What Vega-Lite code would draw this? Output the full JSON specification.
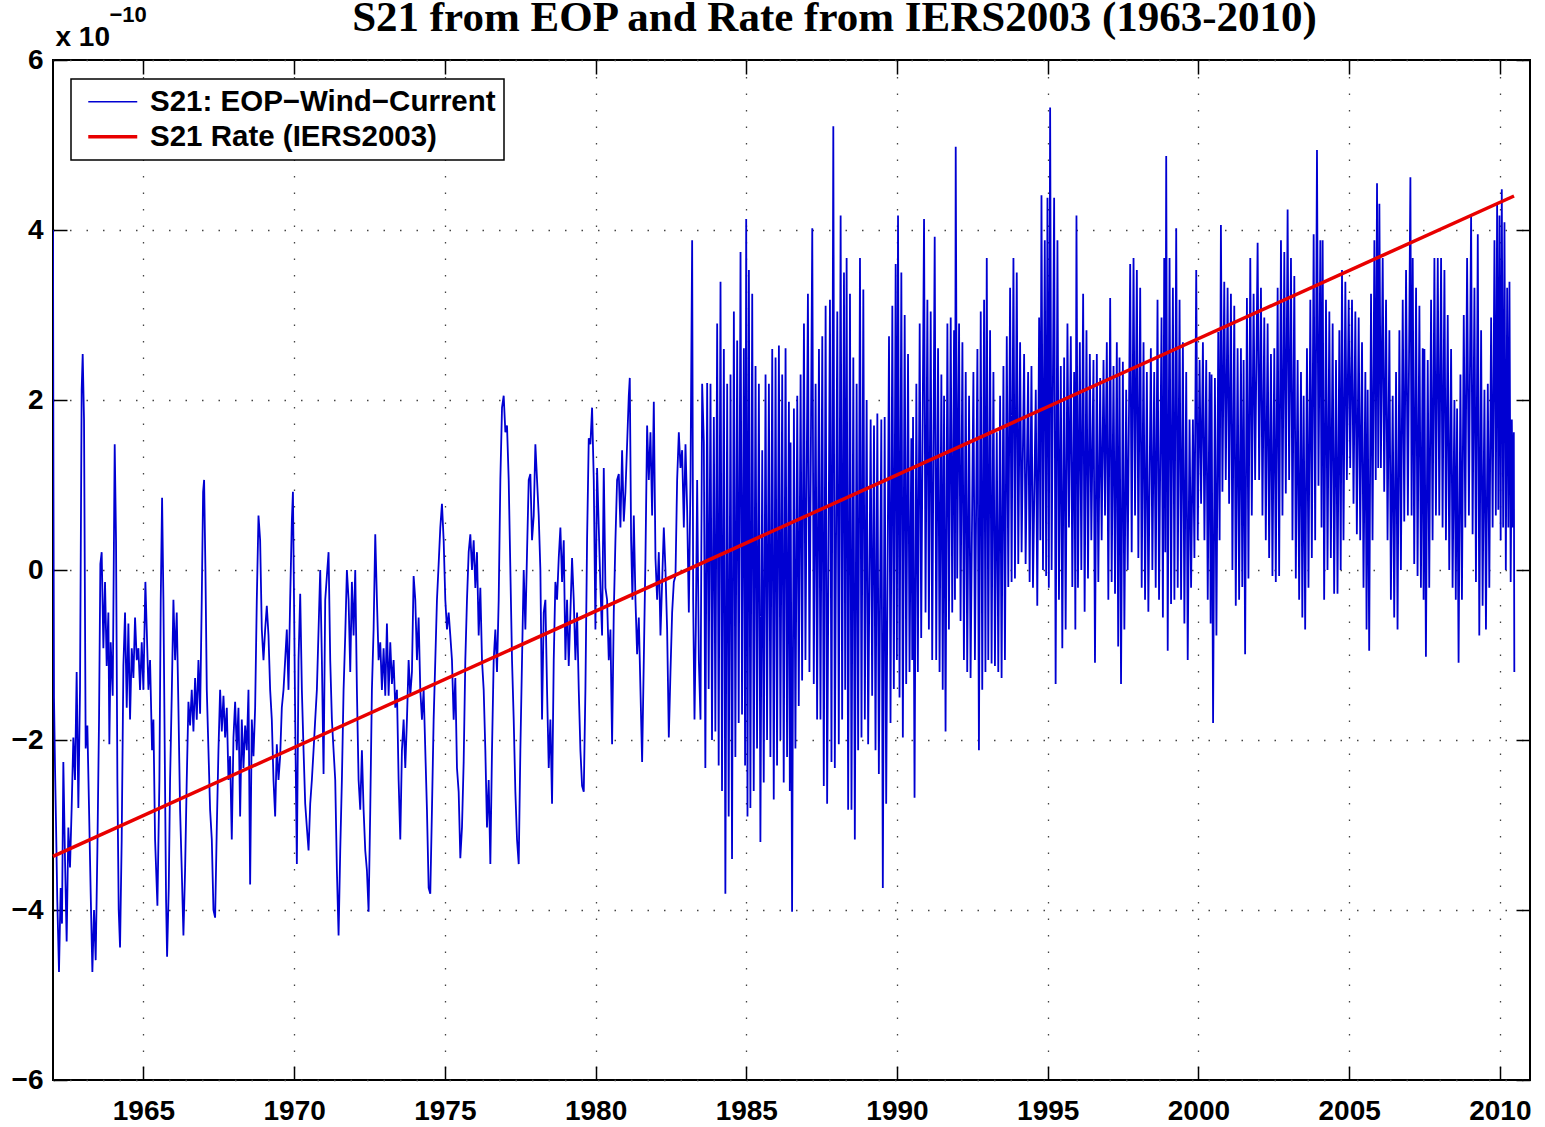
{
"$schema":"https://vega.github.io/schema/vega-lite/v6.json",
"width":1477,"height":1020,
"autosize":{"type":"none"},
"padding":{"left":53,"top":60,"right":15,"bottom":47},
"background":"white",
"config":{
"view":{"stroke":"#000","strokeWidth":2},
"axis":{"domain":false,"tickColor":"#000","tickWidth":1.5,"tickSize":-14,"labelFont":"Liberation Sans","labelFontWeight":"bold","labelFontSize":28,"labelColor":"#000","gridColor":"#444","gridDash":[1.5,15],"gridWidth":1.3,"gridOpacity":1,"titleColor":"#000","titleFont":"Liberation Sans","titleFontWeight":"bold"}
},
"datasets":{
"rate":[{"t":1962,"v":-3.37},{"t":2010.47,"v":4.4}],
"eop":[
{"t":1962.000,"v":4.00},{"t":1962.015,"v":1.00},{"t":1962.033,"v":-1.50},{"t":1962.066,"v":-2.30},{"t":1962.099,"v":-2.96},{"t":1962.143,"v":-3.90},{"t":1962.199,"v":-4.73},{"t":1962.254,"v":-3.74},{"t":1962.298,"v":-4.16},{"t":1962.343,"v":-2.26},{"t":1962.398,"v":-3.40},{"t":1962.453,"v":-4.37},{"t":1962.509,"v":-3.03},{"t":1962.564,"v":-3.50},{"t":1962.619,"v":-2.80},{"t":1962.675,"v":-1.97},{"t":1962.730,"v":-2.47},{"t":1962.785,"v":-1.20},{"t":1962.841,"v":-2.80},{"t":1962.896,"v":-1.41},{"t":1962.951,"v":2.12},{"t":1962.985,"v":2.54},{"t":1963.029,"v":1.77},{"t":1963.084,"v":-2.10},{"t":1963.140,"v":-1.83},{"t":1963.195,"v":-2.80},{"t":1963.250,"v":-3.80},{"t":1963.306,"v":-4.73},{"t":1963.361,"v":-4.00},{"t":1963.416,"v":-4.59},{"t":1963.472,"v":-3.30},{"t":1963.527,"v":-1.76},{"t":1963.571,"v":0.07},{"t":1963.615,"v":0.21},{"t":1963.671,"v":-0.92},{"t":1963.726,"v":-0.14},{"t":1963.781,"v":-1.13},{"t":1963.837,"v":-0.50},{"t":1963.870,"v":-2.05},{"t":1963.914,"v":-0.85},{"t":1963.981,"v":-1.48},{"t":1964.047,"v":1.48},{"t":1964.091,"v":0.35},{"t":1964.136,"v":-2.47},{"t":1964.180,"v":-4.00},{"t":1964.224,"v":-4.44},{"t":1964.279,"v":-3.17},{"t":1964.335,"v":-1.13},{"t":1964.390,"v":-0.50},{"t":1964.446,"v":-1.62},{"t":1964.501,"v":-0.63},{"t":1964.556,"v":-1.76},{"t":1964.612,"v":-0.92},{"t":1964.667,"v":-1.27},{"t":1964.722,"v":-0.56},{"t":1964.778,"v":-1.06},{"t":1964.833,"v":-0.92},{"t":1964.888,"v":-1.41},{"t":1964.944,"v":-0.85},{"t":1964.999,"v":-1.41},{"t":1965.065,"v":-0.14},{"t":1965.110,"v":-0.70},{"t":1965.165,"v":-1.41},{"t":1965.220,"v":-1.06},{"t":1965.286,"v":-2.12},{"t":1965.331,"v":-1.76},{"t":1965.386,"v":-3.17},{"t":1965.464,"v":-3.95},{"t":1965.530,"v":-2.47},{"t":1965.574,"v":-0.35},{"t":1965.619,"v":0.85},{"t":1965.663,"v":-0.35},{"t":1965.707,"v":-2.12},{"t":1965.751,"v":-3.88},{"t":1965.785,"v":-4.55},{"t":1965.840,"v":-3.74},{"t":1965.884,"v":-2.47},{"t":1965.939,"v":-1.48},{"t":1965.995,"v":-0.35},{"t":1966.050,"v":-1.06},{"t":1966.105,"v":-0.50},{"t":1966.161,"v":-1.62},{"t":1966.216,"v":-2.82},{"t":1966.271,"v":-3.53},{"t":1966.327,"v":-4.30},{"t":1966.382,"v":-3.53},{"t":1966.437,"v":-2.47},{"t":1966.493,"v":-1.55},{"t":1966.548,"v":-1.83},{"t":1966.603,"v":-1.41},{"t":1966.659,"v":-1.90},{"t":1966.714,"v":-1.27},{"t":1966.769,"v":-1.76},{"t":1966.825,"v":-1.06},{"t":1966.880,"v":-1.69},{"t":1966.935,"v":-0.35},{"t":1966.980,"v":0.92},{"t":1967.013,"v":1.06},{"t":1967.057,"v":0.00},{"t":1967.102,"v":-1.41},{"t":1967.157,"v":-2.12},{"t":1967.212,"v":-2.82},{"t":1967.268,"v":-3.17},{"t":1967.323,"v":-4.00},{"t":1967.378,"v":-4.09},{"t":1967.434,"v":-3.03},{"t":1967.489,"v":-2.12},{"t":1967.544,"v":-1.41},{"t":1967.600,"v":-1.90},{"t":1967.655,"v":-1.48},{"t":1967.710,"v":-1.97},{"t":1967.766,"v":-1.62},{"t":1967.821,"v":-2.47},{"t":1967.876,"v":-2.19},{"t":1967.931,"v":-3.17},{"t":1967.987,"v":-1.97},{"t":1968.042,"v":-1.55},{"t":1968.097,"v":-2.12},{"t":1968.153,"v":-1.62},{"t":1968.208,"v":-2.90},{"t":1968.263,"v":-1.76},{"t":1968.319,"v":-2.33},{"t":1968.374,"v":-1.83},{"t":1968.429,"v":-2.12},{"t":1968.485,"v":-1.41},{"t":1968.540,"v":-3.70},{"t":1968.595,"v":-1.76},{"t":1968.651,"v":-2.19},{"t":1968.706,"v":-1.62},{"t":1968.761,"v":-0.35},{"t":1968.817,"v":0.64},{"t":1968.872,"v":0.35},{"t":1968.927,"v":-0.70},{"t":1968.983,"v":-1.06},{"t":1969.038,"v":-0.70},{"t":1969.093,"v":-0.42},{"t":1969.149,"v":-0.77},{"t":1969.204,"v":-1.41},{"t":1969.259,"v":-1.76},{"t":1969.315,"v":-2.47},{"t":1969.370,"v":-2.90},{"t":1969.425,"v":-2.05},{"t":1969.481,"v":-2.47},{"t":1969.536,"v":-2.19},{"t":1969.591,"v":-1.62},{"t":1969.647,"v":-1.41},{"t":1969.702,"v":-1.06},{"t":1969.757,"v":-0.70},{"t":1969.813,"v":-1.41},{"t":1969.868,"v":-0.35},{"t":1969.923,"v":0.57},{"t":1969.960,"v":0.92},
{"t":1970.035,"v":-1.76},{"t":1970.090,"v":-3.46},{"t":1970.146,"v":-1.06},{"t":1970.201,"v":-0.28},{"t":1970.256,"v":-1.41},{"t":1970.312,"v":-2.12},{"t":1970.367,"v":-2.75},{"t":1970.422,"v":-3.03},{"t":1970.478,"v":-3.30},{"t":1970.533,"v":-2.75},{"t":1970.588,"v":-2.47},{"t":1970.644,"v":-2.12},{"t":1970.699,"v":-1.76},{"t":1970.754,"v":-1.41},{"t":1970.810,"v":-0.70},{"t":1970.865,"v":0.00},{"t":1970.920,"v":-1.06},{"t":1970.976,"v":-2.40},{"t":1971.031,"v":-0.35},{"t":1971.086,"v":-0.07},{"t":1971.142,"v":0.21},{"t":1971.197,"v":-1.06},{"t":1971.252,"v":-1.76},{"t":1971.308,"v":-2.12},{"t":1971.363,"v":-2.47},{"t":1971.418,"v":-3.53},{"t":1971.474,"v":-4.30},{"t":1971.529,"v":-3.30},{"t":1971.584,"v":-2.47},{"t":1971.640,"v":-1.41},{"t":1971.695,"v":-0.77},{"t":1971.750,"v":0.00},{"t":1971.806,"v":-0.35},{"t":1971.861,"v":-1.20},{"t":1971.916,"v":-0.14},{"t":1971.972,"v":-0.77},{"t":1972.027,"v":0.00},{"t":1972.082,"v":-1.41},{"t":1972.138,"v":-2.47},{"t":1972.193,"v":-2.82},{"t":1972.248,"v":-2.12},{"t":1972.304,"v":-2.82},{"t":1972.359,"v":-3.30},{"t":1972.414,"v":-3.53},{"t":1972.470,"v":-4.02},{"t":1972.525,"v":-2.82},{"t":1972.580,"v":-1.41},{"t":1972.636,"v":-0.70},{"t":1972.691,"v":0.42},{"t":1972.746,"v":-0.35},{"t":1972.802,"v":-1.06},{"t":1972.857,"v":-0.85},{"t":1972.912,"v":-1.41},{"t":1972.968,"v":-0.92},{"t":1973.023,"v":-1.48},{"t":1973.078,"v":-0.63},{"t":1973.134,"v":-1.48},{"t":1973.189,"v":-0.85},{"t":1973.244,"v":-1.34},{"t":1973.300,"v":-1.06},{"t":1973.355,"v":-1.62},{"t":1973.410,"v":-1.41},{"t":1973.466,"v":-2.47},{"t":1973.521,"v":-3.17},{"t":1973.576,"v":-2.12},{"t":1973.632,"v":-1.76},{"t":1973.687,"v":-2.33},{"t":1973.742,"v":-1.76},{"t":1973.798,"v":-1.06},{"t":1973.853,"v":-1.48},{"t":1973.908,"v":-1.20},{"t":1973.964,"v":-0.07},{"t":1974.019,"v":-0.35},{"t":1974.074,"v":-1.06},{"t":1974.130,"v":-0.56},{"t":1974.185,"v":-1.41},{"t":1974.240,"v":-1.76},{"t":1974.296,"v":-1.41},{"t":1974.351,"v":-2.12},{"t":1974.406,"v":-2.82},{"t":1974.462,"v":-3.74},{"t":1974.517,"v":-3.81},{"t":1974.572,"v":-2.82},{"t":1974.628,"v":-1.76},{"t":1974.683,"v":-1.06},{"t":1974.738,"v":-0.35},{"t":1974.794,"v":0.07},{"t":1974.849,"v":0.50},{"t":1974.904,"v":0.78},{"t":1974.960,"v":0.35},{"t":1975.015,"v":-0.35},{"t":1975.070,"v":-0.70},{"t":1975.126,"v":-0.50},{"t":1975.181,"v":-0.77},{"t":1975.236,"v":-1.06},{"t":1975.292,"v":-1.76},{"t":1975.347,"v":-1.27},{"t":1975.402,"v":-2.33},{"t":1975.458,"v":-2.61},{"t":1975.513,"v":-3.39},{"t":1975.568,"v":-3.03},{"t":1975.624,"v":-2.26},{"t":1975.679,"v":-1.06},{"t":1975.734,"v":-0.35},{"t":1975.790,"v":0.21},{"t":1975.845,"v":0.42},{"t":1975.900,"v":0.00},{"t":1975.956,"v":0.35},{"t":1976.011,"v":-0.21},{"t":1976.066,"v":0.21},{"t":1976.122,"v":-0.77},{"t":1976.177,"v":-0.21},{"t":1976.232,"v":-1.06},{"t":1976.288,"v":-1.41},{"t":1976.343,"v":-2.12},{"t":1976.398,"v":-3.03},{"t":1976.454,"v":-2.47},{"t":1976.509,"v":-3.46},{"t":1976.564,"v":-2.12},{"t":1976.620,"v":-1.06},{"t":1976.675,"v":-0.70},{"t":1976.730,"v":-1.20},{"t":1976.786,"v":-0.35},{"t":1976.841,"v":1.06},{"t":1976.896,"v":1.91},{"t":1976.952,"v":2.05},{"t":1977.007,"v":1.62},{"t":1977.062,"v":1.70},{"t":1977.118,"v":1.06},{"t":1977.173,"v":0.00},{"t":1977.228,"v":-1.06},{"t":1977.284,"v":-1.76},{"t":1977.339,"v":-2.61},{"t":1977.394,"v":-3.17},{"t":1977.450,"v":-3.46},{"t":1977.505,"v":-2.12},{"t":1977.560,"v":-1.06},{"t":1977.616,"v":0.00},{"t":1977.671,"v":-0.70},{"t":1977.726,"v":0.21},{"t":1977.782,"v":1.06},{"t":1977.837,"v":1.13},{"t":1977.892,"v":0.35},{"t":1977.948,"v":0.64},{"t":1978.003,"v":1.48},{"t":1978.058,"v":1.06},{"t":1978.114,"v":0.64},{"t":1978.169,"v":0.00},
{"t":1978.224,"v":-1.76},{"t":1978.280,"v":-0.50},{"t":1978.335,"v":-0.35},{"t":1978.390,"v":-1.41},{"t":1978.446,"v":-2.33},{"t":1978.501,"v":-1.76},{"t":1978.556,"v":-2.75},{"t":1978.612,"v":-1.06},{"t":1978.667,"v":-0.14},{"t":1978.722,"v":-0.35},{"t":1978.778,"v":0.14},{"t":1978.833,"v":0.50},{"t":1978.888,"v":-0.14},{"t":1978.944,"v":0.35},{"t":1978.999,"v":-1.06},{"t":1979.054,"v":-0.35},{"t":1979.110,"v":-1.13},{"t":1979.165,"v":-0.50},{"t":1979.220,"v":0.14},{"t":1979.276,"v":-0.35},{"t":1979.331,"v":-1.06},{"t":1979.386,"v":-0.50},{"t":1979.442,"v":-1.41},{"t":1979.497,"v":-2.12},{"t":1979.552,"v":-2.54},{"t":1979.608,"v":-2.61},{"t":1979.663,"v":-1.41},{"t":1979.718,"v":0.35},{"t":1979.774,"v":1.55},{"t":1979.829,"v":1.48},{"t":1979.884,"v":1.91},{"t":1979.940,"v":1.06},{"t":1979.995,"v":-0.70},{"t":1980.050,"v":1.20},{"t":1980.106,"v":0.50},{"t":1980.161,"v":-0.21},{"t":1980.216,"v":-0.77},{"t":1980.272,"v":1.20},{"t":1980.327,"v":-0.21},{"t":1980.382,"v":-0.35},{"t":1980.438,"v":-1.06},{"t":1980.493,"v":-0.70},{"t":1980.548,"v":-2.05},{"t":1980.604,"v":-0.50},{"t":1980.659,"v":0.35},{"t":1980.714,"v":1.06},{"t":1980.770,"v":1.13},{"t":1980.825,"v":0.50},{"t":1980.880,"v":1.41},{"t":1980.936,"v":0.57},{"t":1980.991,"v":0.92},{"t":1981.046,"v":1.48},{"t":1981.102,"v":2.05},{"t":1981.135,"v":2.26},{"t":1981.179,"v":0.35},{"t":1981.223,"v":-0.35},{"t":1981.268,"v":0.64},{"t":1981.323,"v":-0.35},{"t":1981.378,"v":-0.99},{"t":1981.434,"v":-0.56},{"t":1981.489,"v":-1.41},{"t":1981.544,"v":-2.26},{"t":1981.600,"v":-1.06},{"t":1981.655,"v":0.14},{"t":1981.710,"v":1.70},{"t":1981.766,"v":1.06},{"t":1981.821,"v":1.62},{"t":1981.876,"v":0.64},{"t":1981.932,"v":1.98},{"t":1981.987,"v":0.14},{"t":1982.042,"v":-0.35},{"t":1982.098,"v":0.21},{"t":1982.153,"v":-0.77},{"t":1982.208,"v":-0.14},{"t":1982.264,"v":0.50},{"t":1982.319,"v":0.00},{"t":1982.374,"v":-0.70},{"t":1982.430,"v":-1.97},{"t":1982.485,"v":-1.20},{"t":1982.540,"v":-0.50},{"t":1982.596,"v":-0.14},{"t":1982.651,"v":-0.07},{"t":1982.706,"v":1.06},{"t":1982.762,"v":1.62},{"t":1982.817,"v":1.20},{"t":1982.872,"v":1.41},{"t":1982.928,"v":0.50},{"t":1982.983,"v":1.48},{"t":1983.038,"v":0.71},{"t":1983.094,"v":-0.50},{"t":1983.149,"v":1.06},{"t":1983.204,"v":3.88},{"t":1983.238,"v":-0.35},{"t":1983.282,"v":-1.76},{"t":1983.326,"v":-0.70},{"t":1983.370,"v":1.06},{"t":1983.426,"v":-1.06},{"t":1983.481,"v":-1.76},{"t":1983.536,"v":2.19},
{"t":1983.592,"v":1.50},{"t":1983.642,"v":-2.33},{"t":1983.702,"v":2.20},{"t":1983.752,"v":-1.40},{"t":1983.813,"v":2.19},{"t":1983.863,"v":-2.00},{"t":1983.924,"v":1.80},{"t":1983.974,"v":-1.90},{"t":1984.034,"v":2.90},{"t":1984.084,"v":-2.30},{"t":1984.145,"v":3.39},{"t":1984.195,"v":-2.60},{"t":1984.256,"v":2.60},{"t":1984.306,"v":-3.81},{"t":1984.366,"v":2.19},{"t":1984.416,"v":-2.90},{"t":1984.477,"v":2.30},{"t":1984.527,"v":-3.40},{"t":1984.588,"v":3.04},{"t":1984.638,"v":-2.20},{"t":1984.698,"v":2.70},{"t":1984.748,"v":-1.80},{"t":1984.809,"v":3.74},{"t":1984.859,"v":-1.70},{"t":1984.920,"v":2.61},{"t":1984.960,"v":-2.30},{"t":1984.997,"v":4.13},{"t":1985.040,"v":-2.90},{"t":1985.086,"v":3.53},{"t":1985.136,"v":-2.80},{"t":1985.197,"v":3.25},{"t":1985.247,"v":-2.60},{"t":1985.307,"v":2.40},{"t":1985.357,"v":-2.10},{"t":1985.418,"v":2.19},{"t":1985.468,"v":-3.20},{"t":1985.529,"v":1.41},{"t":1985.579,"v":-2.50},{"t":1985.639,"v":2.30},{"t":1985.689,"v":-2.00},{"t":1985.750,"v":2.19},{"t":1985.800,"v":-2.20},{"t":1985.861,"v":2.60},{"t":1985.911,"v":-2.70},{"t":1985.971,"v":2.50},{"t":1986.021,"v":-2.30},{"t":1986.082,"v":2.64},{"t":1986.132,"v":-2.00},{"t":1986.192,"v":2.30},{"t":1986.242,"v":-2.50},{"t":1986.303,"v":2.61},{"t":1986.353,"v":-2.20},{"t":1986.414,"v":1.98},{"t":1986.444,"v":-2.60},{"t":1986.469,"v":1.50},{"t":1986.519,"v":-4.02},{"t":1986.580,"v":1.90},{"t":1986.630,"v":-2.10},{"t":1986.691,"v":2.05},{"t":1986.741,"v":-1.60},
{"t":1986.802,"v":2.30},{"t":1986.852,"v":-1.30},{"t":1986.913,"v":2.90},{"t":1986.963,"v":-1.06},{"t":1987.045,"v":3.25},{"t":1987.095,"v":-1.20},{"t":1987.189,"v":4.02},{"t":1987.239,"v":-1.34},{"t":1987.300,"v":2.19},{"t":1987.350,"v":-1.76},{"t":1987.411,"v":2.60},{"t":1987.461,"v":-1.76},{"t":1987.521,"v":2.75},{"t":1987.571,"v":-2.54},{"t":1987.632,"v":3.11},{"t":1987.682,"v":-2.75},{"t":1987.776,"v":3.18},{"t":1987.826,"v":-2.26},{"t":1987.887,"v":5.22},{"t":1987.937,"v":-2.33},{"t":1988.019,"v":3.04},{"t":1988.069,"v":-2.05},{"t":1988.130,"v":4.17},{"t":1988.180,"v":-1.76},{"t":1988.241,"v":3.50},{"t":1988.281,"v":-1.41},{"t":1988.329,"v":3.67},{"t":1988.379,"v":-2.82},{"t":1988.440,"v":3.25},{"t":1988.490,"v":-2.82},{"t":1988.551,"v":2.50},{"t":1988.601,"v":-3.17},{"t":1988.661,"v":2.19},{"t":1988.711,"v":-2.12},{"t":1988.772,"v":3.67},{"t":1988.822,"v":-1.97},{"t":1988.883,"v":3.30},{"t":1988.933,"v":-1.76},{"t":1988.993,"v":2.00},{"t":1989.043,"v":-2.05},{"t":1989.126,"v":1.77},{"t":1989.176,"v":-1.48},{"t":1989.237,"v":1.70},{"t":1989.287,"v":-2.12},{"t":1989.348,"v":1.84},{"t":1989.398,"v":-2.40},{"t":1989.480,"v":1.77},{"t":1989.530,"v":-3.74},{"t":1989.591,"v":1.80},{"t":1989.641,"v":-2.75},{"t":1989.735,"v":2.75},{"t":1989.785,"v":-1.80},{"t":1989.845,"v":3.11},{"t":1989.895,"v":-1.40},{"t":1989.956,"v":3.60},{"t":1989.996,"v":-1.06},{"t":1990.034,"v":4.17},{"t":1990.084,"v":-1.50},{"t":1990.144,"v":3.50},{"t":1990.194,"v":-1.97},{"t":1990.255,"v":3.00},{"t":1990.305,"v":-1.34},{"t":1990.366,"v":2.54},{"t":1990.416,"v":-1.20},{"t":1990.476,"v":1.55},{"t":1990.506,"v":-1.06},{"t":1990.532,"v":1.80},{"t":1990.582,"v":-2.68},{"t":1990.642,"v":2.19},{"t":1990.692,"v":-1.20},{"t":1990.753,"v":2.90},{"t":1990.803,"v":-0.80},{"t":1990.897,"v":4.13},{"t":1990.947,"v":-0.50},{"t":1991.008,"v":3.18},{"t":1991.058,"v":-0.70},{"t":1991.118,"v":3.04},{"t":1991.168,"v":-1.06},{"t":1991.251,"v":3.92},{"t":1991.301,"v":-1.06},{"t":1991.362,"v":2.61},{"t":1991.412,"v":-1.20},{"t":1991.472,"v":2.30},{"t":1991.517,"v":-1.41},{"t":1991.561,"v":2.05},{"t":1991.611,"v":-1.90},{"t":1991.672,"v":2.90},{"t":1991.722,"v":-0.70},{"t":1991.782,"v":2.97},{"t":1991.832,"v":-0.50},{"t":1991.893,"v":2.82},{"t":1991.923,"v":-0.35},{"t":1991.948,"v":4.98},{"t":1991.998,"v":-0.10},{"t":1992.059,"v":2.90},{"t":1992.109,"v":-0.60},{"t":1992.170,"v":2.68},{"t":1992.220,"v":-1.06},{"t":1992.280,"v":2.33},{"t":1992.330,"v":-1.20},{"t":1992.391,"v":2.05},{"t":1992.441,"v":-1.27},{"t":1992.535,"v":2.33},{"t":1992.585,"v":-1.06},{"t":1992.668,"v":2.60},{"t":1992.718,"v":-2.12},{"t":1992.778,"v":3.04},{"t":1992.828,"v":-1.41},{"t":1992.889,"v":3.18},{"t":1992.934,"v":-1.20},{"t":1992.978,"v":3.67},{"t":1993.028,"v":-1.06},{"t":1993.088,"v":2.82},{"t":1993.138,"v":-1.10},{"t":1993.199,"v":2.33},{"t":1993.249,"v":-1.13},{"t":1993.310,"v":1.62},{"t":1993.360,"v":-1.20},{"t":1993.420,"v":2.05},{"t":1993.470,"v":-1.27},{"t":1993.531,"v":2.40},{"t":1993.581,"v":-1.06},{"t":1993.642,"v":2.75},{"t":1993.692,"v":-0.20},{"t":1993.752,"v":3.32},{"t":1993.802,"v":-0.14},{"t":1993.863,"v":3.67},{"t":1993.913,"v":-0.10},{"t":1993.973,"v":3.50},{"t":1994.023,"v":0.07},{"t":1994.084,"v":2.68},{"t":1994.134,"v":0.21},{"t":1994.217,"v":2.54},{"t":1994.267,"v":0.07},{"t":1994.350,"v":2.33},{"t":1994.400,"v":-0.14},{"t":1994.461,"v":2.40},{"t":1994.511,"v":-0.21},{"t":1994.604,"v":2.12},{"t":1994.654,"v":-0.42},{"t":1994.715,"v":2.97},{"t":1994.755,"v":0.35},{"t":1994.793,"v":4.41},{"t":1994.843,"v":0.00},{"t":1994.903,"v":3.88},{"t":1994.948,"v":-0.07},{"t":1994.992,"v":4.38},{"t":1995.037,"v":-0.21},{"t":1995.080,"v":5.44},{"t":1995.130,"v":0.00},
{"t":1995.213,"v":4.38},{"t":1995.263,"v":-1.34},{"t":1995.323,"v":3.88},{"t":1995.373,"v":-0.35},{"t":1995.434,"v":2.40},{"t":1995.484,"v":-0.92},{"t":1995.545,"v":2.50},{"t":1995.595,"v":-0.70},{"t":1995.655,"v":2.90},{"t":1995.705,"v":0.50},{"t":1995.766,"v":2.75},{"t":1995.816,"v":-0.20},{"t":1995.877,"v":2.33},{"t":1995.917,"v":-0.70},{"t":1995.954,"v":4.17},{"t":1996.004,"v":-0.21},{"t":1996.065,"v":2.68},{"t":1996.115,"v":0.00},{"t":1996.175,"v":3.25},{"t":1996.225,"v":-0.49},{"t":1996.286,"v":2.82},{"t":1996.336,"v":-0.10},{"t":1996.397,"v":2.54},{"t":1996.447,"v":0.35},{"t":1996.518,"v":2.47},{"t":1996.568,"v":-1.09},{"t":1996.629,"v":2.54},{"t":1996.679,"v":-0.14},{"t":1996.740,"v":2.26},{"t":1996.790,"v":0.35},{"t":1996.851,"v":2.47},{"t":1996.901,"v":0.64},{"t":1996.961,"v":2.68},{"t":1997.011,"v":-0.35},{"t":1997.072,"v":3.20},{"t":1997.122,"v":-0.14},{"t":1997.183,"v":2.40},{"t":1997.233,"v":-0.28},{"t":1997.293,"v":2.68},{"t":1997.338,"v":-0.90},{"t":1997.382,"v":2.50},{"t":1997.432,"v":-1.34},{"t":1997.493,"v":2.45},{"t":1997.543,"v":-0.70},{"t":1997.603,"v":2.12},{"t":1997.653,"v":0.00},{"t":1997.736,"v":3.60},{"t":1997.786,"v":0.21},{"t":1997.847,"v":3.67},{"t":1997.897,"v":0.64},{"t":1997.957,"v":3.53},{"t":1998.007,"v":0.14},{"t":1998.068,"v":3.32},{"t":1998.118,"v":-0.21},{"t":1998.179,"v":2.68},{"t":1998.229,"v":-0.35},{"t":1998.289,"v":2.33},{"t":1998.339,"v":-0.49},{"t":1998.422,"v":2.61},{"t":1998.472,"v":0.00},{"t":1998.533,"v":2.33},{"t":1998.583,"v":-0.21},{"t":1998.643,"v":3.18},{"t":1998.693,"v":-0.35},{"t":1998.776,"v":2.97},{"t":1998.821,"v":-0.56},{"t":1998.865,"v":3.67},{"t":1998.900,"v":0.21},{"t":1998.931,"v":4.87},{"t":1998.981,"v":-0.95},{"t":1999.042,"v":3.67},{"t":1999.092,"v":-0.40},{"t":1999.153,"v":3.32},{"t":1999.203,"v":-0.35},{"t":1999.263,"v":4.02},{"t":1999.313,"v":-0.21},{"t":1999.374,"v":3.18},{"t":1999.424,"v":-0.35},{"t":1999.484,"v":2.68},{"t":1999.534,"v":-0.63},{"t":1999.595,"v":2.33},{"t":1999.645,"v":-1.06},{"t":1999.706,"v":1.77},{"t":1999.756,"v":-0.21},{"t":1999.817,"v":1.77},{"t":1999.867,"v":0.14},{"t":1999.927,"v":3.53},{"t":1999.977,"v":0.35},{"t":2000.038,"v":2.47},{"t":2000.088,"v":0.78},{"t":2000.149,"v":2.68},{"t":2000.199,"v":0.35},{"t":2000.259,"v":2.47},{"t":2000.309,"v":-0.35},{"t":2000.370,"v":2.33},{"t":2000.405,"v":-0.63},{"t":2000.436,"v":2.30},{"t":2000.486,"v":-1.80},{"t":2000.547,"v":2.26},{"t":2000.597,"v":-0.77},{"t":2000.658,"v":2.80},{"t":2000.703,"v":0.35},{"t":2000.746,"v":4.06},{"t":2000.796,"v":0.92},{"t":2000.857,"v":3.39},{"t":2000.907,"v":1.06},{"t":2000.968,"v":3.32},{"t":2001.018,"v":0.78},{"t":2001.078,"v":3.25},{"t":2001.128,"v":0.00},{"t":2001.189,"v":3.11},{"t":2001.239,"v":-0.42},{"t":2001.300,"v":2.61},{"t":2001.350,"v":-0.35},{"t":2001.410,"v":2.61},{"t":2001.455,"v":-0.20},{"t":2001.499,"v":2.47},{"t":2001.549,"v":-0.99},{"t":2001.609,"v":3.20},{"t":2001.659,"v":-0.10},{"t":2001.720,"v":3.67},{"t":2001.770,"v":0.64},{"t":2001.831,"v":3.25},{"t":2001.881,"v":1.06},{"t":2001.964,"v":3.85},{"t":2002.014,"v":1.06},{"t":2002.074,"v":3.32},{"t":2002.124,"v":0.64},{"t":2002.185,"v":2.97},{"t":2002.235,"v":0.35},{"t":2002.296,"v":2.90},{"t":2002.346,"v":0.14},{"t":2002.406,"v":2.54},{"t":2002.456,"v":-0.07},{"t":2002.517,"v":2.61},{"t":2002.567,"v":-0.14},{"t":2002.628,"v":3.32},{"t":2002.678,"v":-0.07},{"t":2002.738,"v":3.88},{"t":2002.788,"v":0.64},{"t":2002.849,"v":3.74},{"t":2002.899,"v":0.90},{"t":2002.959,"v":4.24},{"t":2003.009,"v":1.06},{"t":2003.070,"v":3.67},{"t":2003.120,"v":0.35},{"t":2003.181,"v":3.46},{"t":2003.231,"v":-0.10},
{"t":2003.291,"v":2.47},{"t":2003.341,"v":-0.35},{"t":2003.402,"v":2.33},{"t":2003.447,"v":-0.56},{"t":2003.491,"v":2.05},{"t":2003.541,"v":-0.70},{"t":2003.601,"v":2.61},{"t":2003.651,"v":-0.21},{"t":2003.712,"v":3.18},{"t":2003.762,"v":0.14},{"t":2003.823,"v":3.95},{"t":2003.873,"v":0.35},{"t":2003.933,"v":4.94},{"t":2003.983,"v":0.99},{"t":2004.044,"v":3.88},{"t":2004.084,"v":0.50},{"t":2004.121,"v":3.88},{"t":2004.171,"v":-0.35},{"t":2004.232,"v":3.18},{"t":2004.282,"v":0.00},{"t":2004.343,"v":3.04},{"t":2004.393,"v":0.14},{"t":2004.453,"v":2.90},{"t":2004.503,"v":-0.28},{"t":2004.564,"v":2.47},{"t":2004.614,"v":-0.28},{"t":2004.675,"v":2.82},{"t":2004.720,"v":0.00},{"t":2004.763,"v":3.53},{"t":2004.813,"v":0.35},{"t":2004.874,"v":3.39},{"t":2004.924,"v":1.06},{"t":2004.985,"v":3.18},{"t":2005.035,"v":1.20},{"t":2005.095,"v":3.18},{"t":2005.145,"v":0.78},{"t":2005.206,"v":3.04},{"t":2005.256,"v":0.42},{"t":2005.317,"v":2.97},{"t":2005.367,"v":0.35},{"t":2005.427,"v":2.68},{"t":2005.477,"v":-0.21},{"t":2005.538,"v":2.33},{"t":2005.578,"v":-0.70},{"t":2005.615,"v":2.12},{"t":2005.665,"v":-0.95},{"t":2005.726,"v":3.25},{"t":2005.776,"v":0.35},{"t":2005.837,"v":3.88},{"t":2005.882,"v":1.06},{"t":2005.925,"v":4.55},{"t":2005.965,"v":1.20},{"t":2006.003,"v":4.31},{"t":2006.053,"v":1.20},{"t":2006.113,"v":3.67},{"t":2006.163,"v":0.92},{"t":2006.224,"v":3.18},{"t":2006.274,"v":0.35},{"t":2006.335,"v":2.82},{"t":2006.385,"v":-0.35},{"t":2006.445,"v":2.05},{"t":2006.495,"v":-0.56},{"t":2006.556,"v":2.33},{"t":2006.606,"v":-0.70},{"t":2006.667,"v":2.82},{"t":2006.717,"v":0.00},{"t":2006.778,"v":3.18},{"t":2006.828,"v":0.57},{"t":2006.888,"v":3.53},{"t":2006.948,"v":0.64},{"t":2007.032,"v":4.62},{"t":2007.072,"v":0.64},{"t":2007.109,"v":3.67},{"t":2007.159,"v":0.07},{"t":2007.220,"v":3.32},{"t":2007.270,"v":-0.07},{"t":2007.331,"v":3.11},{"t":2007.381,"v":-0.21},{"t":2007.441,"v":2.61},{"t":2007.470,"v":-0.35},{"t":2007.497,"v":2.60},{"t":2007.547,"v":-1.02},{"t":2007.607,"v":2.47},{"t":2007.657,"v":-0.21},{"t":2007.718,"v":3.18},{"t":2007.768,"v":0.35},{"t":2007.829,"v":3.67},{"t":2007.879,"v":0.64},{"t":2007.940,"v":3.67},{"t":2007.990,"v":0.64},{"t":2008.050,"v":3.67},{"t":2008.100,"v":0.50},{"t":2008.161,"v":3.53},{"t":2008.211,"v":0.35},{"t":2008.271,"v":3.00},{"t":2008.321,"v":0.00},{"t":2008.382,"v":2.60},{"t":2008.432,"v":-0.21},{"t":2008.493,"v":2.00},{"t":2008.538,"v":-0.35},{"t":2008.581,"v":1.90},{"t":2008.631,"v":-1.09},{"t":2008.692,"v":2.30},{"t":2008.742,"v":-0.35},{"t":2008.803,"v":3.00},{"t":2008.853,"v":0.50},{"t":2008.913,"v":3.67},{"t":2008.973,"v":0.64},{"t":2009.046,"v":4.17},{"t":2009.096,"v":0.42},{"t":2009.157,"v":3.32},{"t":2009.207,"v":-0.14},{"t":2009.268,"v":3.95},{"t":2009.318,"v":-0.77},{"t":2009.378,"v":2.82},{"t":2009.428,"v":-0.42},{"t":2009.489,"v":2.12},{"t":2009.539,"v":-0.70},{"t":2009.600,"v":2.19},{"t":2009.650,"v":-0.21},{"t":2009.710,"v":2.97},{"t":2009.760,"v":0.50},{"t":2009.821,"v":3.88},{"t":2009.866,"v":0.64},{"t":2009.909,"v":4.31},{"t":2009.949,"v":0.71},{"t":2009.987,"v":4.17},{"t":2010.027,"v":0.35},{"t":2010.064,"v":4.48},{"t":2010.109,"v":0.50},{"t":2010.153,"v":4.09},{"t":2010.198,"v":0.00},{"t":2010.242,"v":3.32},{"t":2010.282,"v":0.50},{"t":2010.319,"v":3.39},{"t":2010.359,"v":-0.14},{"t":2010.397,"v":1.77},{"t":2010.430,"v":0.50},{"t":2010.463,"v":1.62},{"t":2010.480,"v":-1.20}
]
},
"layer":[
{"data":{"name":"eop"},
"mark":{"type":"line","interpolate":"linear","clip":true,"strokeWidth":1.8},
"encoding":{
"x":{"field":"t","type":"quantitative","scale":{"domain":[1962,2011],"nice":false,"zero":false},"axis":{"orient":"bottom","values":[1965,1970,1975,1980,1985,1990,1995,2000,2005,2010],"format":"d","grid":true,"title":null,"labelPadding":31,"labelFlush":false,"labelOverlap":false}},
"y":{"field":"v","type":"quantitative","scale":{"domain":[-6,6],"nice":false,"zero":false},"axis":{"orient":"left","values":[-6,-4,-2,0,2,4,6],"grid":true,"labelPadding":24,"labelFlush":false,"labelOverlap":false,"title":"x 10","titleAngle":0,"titleX":2,"titleY":-15,"titleAlign":"left","titleBaseline":"alphabetic","titleFontSize":28}},
"color":{"datum":"S21: EOP−Wind−Current","type":"nominal","scale":{"domain":["S21: EOP−Wind−Current","S21 Rate (IERS2003)"],"range":["#0000d2","#e80000"]},"legend":{"title":null,"orient":"none","legendX":18,"legendY":19,"direction":"vertical","strokeColor":"#000","fillColor":"#fff","padding":8,"symbolOffset":19,"symbolSize":400,"symbolStrokeWidth":2,"symbolType":"stroke","labelFont":"Liberation Sans","labelFontSize":29.5,"labelFontWeight":"bold","labelColor":"#000","labelOffset":22.5,"rowPadding":4,"labelLimit":0,
"encode":{"legend":{"update":{"strokeWidth":{"value":1.5}}},"symbols":{"update":{"size":{"value":2400},"strokeWidth":{"signal":"datum.value === 'S21 Rate (IERS2003)' ? 3.5 : 1.4"}}}}}}
}},
{"data":{"name":"rate"},
"mark":{"type":"line","strokeWidth":3.5},
"encoding":{
"x":{"field":"t","type":"quantitative","axis":{"orient":"top","values":[1965,1970,1975,1980,1985,1990,1995,2000,2005,2010],"labels":false,"grid":false,"title":"S21 from EOP and Rate from IERS2003 (1963-2010)","titleFont":"Liberation Serif","titleFontSize":43,"titleFontWeight":"bold","titleX":781,"titleY":-30,"titleAlign":"center","titleBaseline":"alphabetic","titleAngle":0}},
"y":{"field":"v","type":"quantitative","axis":{"orient":"right","values":[-6,-4,-2,0,2,4,6],"labels":false,"grid":false,"title":"−10","titleAngle":0,"titleX":-1421,"titleY":-39,"titleAlign":"left","titleBaseline":"alphabetic","titleFontSize":22}},
"color":{"datum":"S21 Rate (IERS2003)","type":"nominal"}
}}
],
"resolve":{"axis":{"x":"independent","y":"independent"}}
}
